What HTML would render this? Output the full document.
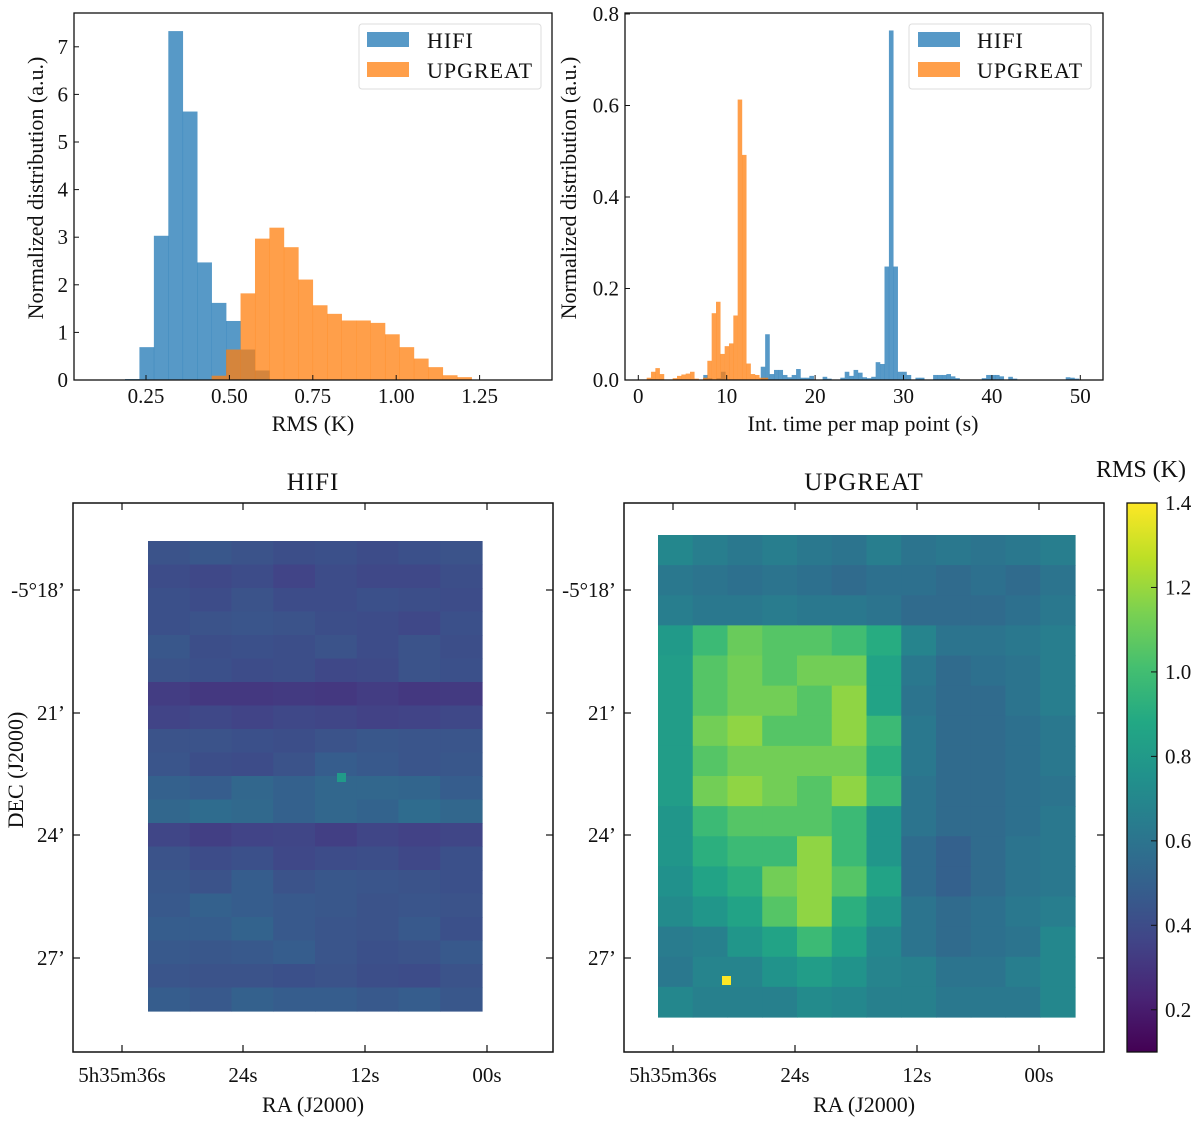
<!DOCTYPE html>
<html><head><meta charset="utf-8">
<style>
body{margin:0;background:#fff;}
svg text{font-family:"Liberation Serif",serif;fill:#111;}
</style></head>
<body>
<svg id="fig" width="1200" height="1124" viewBox="0 0 1200 1124" xmlns="http://www.w3.org/2000/svg">
<defs>
<linearGradient id="vir" x1="0" y1="1" x2="0" y2="0">
<stop offset="0" stop-color="#440154"/><stop offset="0.1" stop-color="#482475"/><stop offset="0.2" stop-color="#414487"/><stop offset="0.3" stop-color="#355f8d"/><stop offset="0.4" stop-color="#2a788e"/><stop offset="0.5" stop-color="#21918c"/><stop offset="0.6" stop-color="#22a884"/><stop offset="0.7" stop-color="#44bf70"/><stop offset="0.8" stop-color="#7ad151"/><stop offset="0.9" stop-color="#bddf26"/><stop offset="1" stop-color="#fde725"/>
</linearGradient>
</defs>
</svg>
<script>
// ---- Histogram 1 data (RMS) ----
const rmsBinStart = 0.187;
const rmsBinWidth = 0.0433;
const rmsHifi = [0.02,0.69,3.03,7.33,5.64,2.47,1.62,1.24,0.64,0.2];
const rmsUpgreatStart = 0.187 + 6*0.0433;
const rmsUpgreat = [0.09,0.64,1.82,2.97,3.2,2.79,2.11,1.57,1.39,1.25,1.25,1.2,0.96,0.69,0.45,0.27,0.1,0.06];
const rmsXTicks = [0.25,0.5,0.75,1.0,1.25];
const rmsXTickLabels = ["0.25","0.50","0.75","1.00","1.25"];
const rmsYTicks = [0,1,2,3,4,5,6,7];
// ---- Histogram 2 data (integration time) ----
const timeHifiStart = 7.35;
const timeHifiWidth = 0.5;
const timeHifi = [0.011,0.004,0,0.004,0.018,0,0,0,0,0,0,0,0,0.029,0.1,0.013,0.022,0.022,0.011,0.006,0.011,0.024,0.005,0.005,0.009,0,0,0.007,0.003,0,0,0.005,0.018,0.009,0.022,0.016,0.006,0.004,0.007,0.039,0.035,0.248,0.764,0.248,0.018,0.018,0.011,0,0.005,0.005,0,0,0.011,0.011,0.011,0.013,0.008,0.004,0,0,0,0,0,0.004,0.011,0.011,0.011,0.008,0,0.007,0.003,0,0,0,0,0,0,0,0,0,0,0,0.006,0.005,0.003];
const timeUpStart = 0.95;
const timeUpWidth = 0.49;
const timeUp = [0.005,0.018,0.026,0.013,0,0,0.004,0.009,0.012,0.014,0.018,0.003,0,0.005,0.042,0.146,0.171,0.057,0.074,0.08,0.141,0.613,0.492,0.036,0.013,0.011,0.005,0.005];
const timeXTicks = [0,10,20,30,40,50];
const timeYTicks = [0,0.2,0.4,0.6,0.8];
const timeYTickLabels = ["0.0","0.2","0.4","0.6","0.8"];
// ---- Maps ----
const hifiMap = [
[.43,.45,.43,.41,.42,.40,.42,.43],
[.40,.38,.40,.36,.40,.38,.38,.41],
[.42,.40,.43,.40,.40,.42,.41,.40],
[.42,.43,.44,.43,.41,.40,.38,.42],
[.45,.41,.42,.41,.43,.40,.43,.41],
[.43,.42,.40,.41,.38,.39,.43,.42],
[.33,.31,.31,.32,.31,.33,.31,.32],
[.36,.38,.36,.38,.37,.35,.36,.38],
[.43,.43,.42,.41,.43,.45,.44,.44],
[.44,.41,.40,.43,.48,.46,.44,.45],
[.50,.48,.53,.50,.53,.53,.52,.48],
[.53,.56,.54,.50,.53,.51,.56,.53],
[.37,.34,.36,.37,.34,.37,.35,.37],
[.43,.40,.42,.38,.40,.41,.38,.42],
[.45,.43,.48,.43,.45,.44,.43,.42],
[.46,.50,.48,.46,.45,.43,.44,.43],
[.48,.48,.51,.46,.44,.43,.46,.42],
[.46,.45,.46,.48,.44,.42,.43,.46],
[.44,.43,.43,.42,.43,.41,.40,.43],
[.48,.46,.50,.48,.48,.46,.48,.45]];
const upMap = [
[.70,.65,.62,.65,.62,.60,.65,.60,.62,.60,.62,.65],
[.62,.60,.58,.60,.58,.55,.58,.58,.55,.58,.55,.60],
[.65,.62,.62,.64,.62,.62,.60,.55,.55,.55,.58,.62],
[.80,.98,1.10,1.05,1.05,1.00,.90,.68,.60,.60,.62,.65],
[.82,1.05,1.12,1.05,1.12,1.12,.85,.62,.55,.58,.60,.65],
[.82,1.05,1.12,1.12,1.05,1.18,.85,.60,.55,.55,.60,.65],
[.82,1.12,1.18,1.05,1.05,1.18,.98,.62,.55,.55,.58,.62],
[.82,1.05,1.12,1.12,1.12,1.12,.92,.62,.55,.55,.58,.62],
[.82,1.12,1.18,1.12,1.05,1.18,.98,.60,.55,.55,.58,.60],
[.78,.98,1.05,1.05,1.05,.98,.78,.60,.55,.55,.58,.62],
[.78,.92,.98,.98,1.18,.98,.78,.56,.50,.55,.60,.62],
[.75,.85,.92,1.12,1.18,1.05,.85,.56,.50,.55,.60,.62],
[.72,.78,.85,1.05,1.18,.92,.78,.60,.55,.58,.62,.65],
[.64,.66,.78,.85,.98,.85,.70,.60,.55,.58,.60,.70],
[.62,.68,.68,.76,.82,.76,.68,.66,.60,.60,.65,.70],
[.70,.66,.66,.66,.72,.70,.66,.66,.62,.62,.62,.70]];
const cbTicks = [0.2,0.4,0.6,0.8,1.0,1.2,1.4];
const cbTickLabels = ["0.2","0.4","0.6","0.8","1.0","1.2","1.4"];
const raTickLabels = ["5h35m36s","24s","12s","00s"];
const decTickLabels = ["-5°18’","21’","24’","27’"];

const NS="http://www.w3.org/2000/svg";
const svg=document.getElementById('fig');
function el(tag,attrs,parent,text){const e=document.createElementNS(NS,tag);for(const k in attrs)e.setAttribute(k,attrs[k]);if(text!==undefined)e.textContent=text;(parent||svg).appendChild(e);return e;}

const stops=[[68,1,84],[72,36,117],[65,68,135],[53,95,141],[42,120,142],[33,145,140],[34,168,132],[68,191,112],[122,209,81],[189,223,38],[253,231,37]];
function viridis(t){t=Math.max(0,Math.min(1,t));const f=t*10;const i=Math.min(9,Math.floor(f));const r=f-i;const a=stops[i],b=stops[i+1];return `rgb(${Math.round(a[0]+(b[0]-a[0])*r)},${Math.round(a[1]+(b[1]-a[1])*r)},${Math.round(a[2]+(b[2]-a[2])*r)})`;}
const vmin=0.1,vmax=1.4;
function cval(v){return viridis((v-vmin)/(vmax-vmin));}
const TF=21, LF=22;

// ===== Histogram 1 =====
{
const L=74,R=552,T=13,B=380;
const xs=v=>62.6+(v)*333.6;
const ys=v=>B-v*47.6;
const g=el('g',{});  
rmsHifi.forEach((v,i)=>{const x0=xs(rmsBinStart+i*rmsBinWidth),x1=xs(rmsBinStart+(i+1)*rmsBinWidth);
 const r=el('rect',{x:x0,y:ys(v),width:x1-x0+0.3,height:B-ys(v),fill:'#1f77b4','fill-opacity':0.75},g);
  });
rmsUpgreat.forEach((v,i)=>{const x0=xs(rmsUpgreatStart+i*rmsBinWidth),x1=xs(rmsUpgreatStart+(i+1)*rmsBinWidth);
 const r=el('rect',{x:x0,y:ys(v),width:x1-x0+0.3,height:B-ys(v),fill:'#ff7f0e','fill-opacity':0.75},g);
  });
const fr=el('rect',{x:L,y:T,width:R-L,height:B-T,fill:'none',stroke:'#111','stroke-width':1.3},g);
 
rmsXTicks.forEach((v,i)=>{el('line',{x1:xs(v),x2:xs(v),y1:B,y2:B-5,stroke:'#111'},g);
 const t=el('text',{x:xs(v),y:403,'text-anchor':'middle','font-size':TF},g,rmsXTickLabels[i]);
  });
rmsYTicks.forEach(v=>{el('line',{x1:L,x2:L+5,y1:ys(v),y2:ys(v),stroke:'#111'},g);
 const t=el('text',{x:68,y:ys(v)+7,'text-anchor':'end','font-size':TF},g,String(v));
  });
const xl=el('text',{x:313,y:431,'text-anchor':'middle','font-size':LF},g,'RMS (K)');
 
const yl=el('text',{x:0,y:0,'text-anchor':'middle','font-size':LF,transform:'translate(43,188) rotate(-90)'},g,'Normalized distribution (a.u.)');
 
const lg=el('g',{},g);  
el('rect',{x:359,y:24,width:182,height:65,rx:3,fill:'#fff',stroke:'#ddd'},lg);
el('rect',{x:367,y:32,width:42,height:15,fill:'#1f77b4','fill-opacity':0.75},lg);
el('rect',{x:367,y:62,width:42,height:15,fill:'#ff7f0e','fill-opacity':0.75},lg);
const a1=el('text',{x:427,y:48,'font-size':LF,'letter-spacing':1},lg,'HIFI');  
const a2=el('text',{x:427,y:78,'font-size':LF,'letter-spacing':1},lg,'UPGREAT');  
}

// ===== Histogram 2 =====
{
const L=625,R=1103,T=13,B=380;
const xs=v=>638.3+v*8.84;
const ys=v=>B-v*457.5;
const g=el('g',{});  
timeHifi.forEach((v,i)=>{if(!v)return;const x0=xs(timeHifiStart+i*timeHifiWidth),x1=xs(timeHifiStart+(i+1)*timeHifiWidth);
 const r=el('rect',{x:x0,y:ys(v),width:x1-x0+0.2,height:B-ys(v),fill:'#1f77b4','fill-opacity':0.75},g);
  });
timeUp.forEach((v,i)=>{if(!v)return;const x0=xs(timeUpStart+i*timeUpWidth),x1=xs(timeUpStart+(i+1)*timeUpWidth);
 const r=el('rect',{x:x0,y:ys(v),width:x1-x0+0.2,height:B-ys(v),fill:'#ff7f0e','fill-opacity':0.75},g);
  });
const fr=el('rect',{x:L,y:T,width:R-L,height:B-T,fill:'none',stroke:'#111','stroke-width':1.3},g);
 
timeXTicks.forEach(v=>{el('line',{x1:xs(v),x2:xs(v),y1:B,y2:B-5,stroke:'#111'},g);
 const t=el('text',{x:xs(v),y:403,'text-anchor':'middle','font-size':TF},g,String(v));
  });
timeYTicks.forEach((v,i)=>{el('line',{x1:L,x2:L+5,y1:ys(v),y2:ys(v),stroke:'#111'},g);
 const t=el('text',{x:619,y:ys(v)+7,'text-anchor':'end','font-size':TF},g,timeYTickLabels[i]);
  });
const xl=el('text',{x:863,y:431,'text-anchor':'middle','font-size':LF},g,'Int. time per map point (s)');
 
const yl=el('text',{x:0,y:0,'text-anchor':'middle','font-size':LF,transform:'translate(576,188) rotate(-90)'},g,'Normalized distribution (a.u.)');
 
const lg=el('g',{},g);  
el('rect',{x:909,y:24,width:182,height:65,rx:3,fill:'#fff',stroke:'#ddd'},lg);
el('rect',{x:918,y:32,width:42,height:15,fill:'#1f77b4','fill-opacity':0.75},lg);
el('rect',{x:918,y:62,width:42,height:15,fill:'#ff7f0e','fill-opacity':0.75},lg);
const a1=el('text',{x:977,y:48,'font-size':LF,'letter-spacing':1},lg,'HIFI');  
const a2=el('text',{x:977,y:78,'font-size':LF,'letter-spacing':1},lg,'UPGREAT');  
}

// ===== Maps =====
function drawMap(name,title,L,R,mx0,mx1,my0,my1,data,raX,decLabelX,showDecTitle,spot){
 const T=503,B=1052;
 const g=el('g',{});  
 const rows=data.length, cols=data[0].length;
 const cw=(mx1-mx0)/cols, rh=(my1-my0)/rows;
 data.forEach((row,r)=>row.forEach((v,c)=>{
  const e=el('rect',{x:mx0+c*cw,y:my0+r*rh,width:cw+0.6,height:rh+0.6,fill:cval(v)},g);
   }));
 if(spot){const s=el('rect',{x:spot[0]-4,y:spot[1]-4,width:9,height:9,fill:cval(spot[2])},g);
   }
 const fr=el('rect',{x:L,y:T,width:R-L,height:B-T,fill:'none',stroke:'#111','stroke-width':1.5},g);
  
 const decY=[590,713,835,958];
 raX.forEach((x,i)=>{el('line',{x1:x,x2:x,y1:B,y2:B-7,stroke:'#111','stroke-width':1.2},g);el('line',{x1:x,x2:x,y1:T,y2:T+7,stroke:'#111','stroke-width':1.2},g);
  const t=el('text',{x:x,y:1082,'text-anchor':'middle','font-size':TF},g,raTickLabels[i]);
   });
 decY.forEach((y,i)=>{el('line',{x1:L,x2:L+7,y1:y,y2:y,stroke:'#111','stroke-width':1.2},g);el('line',{x1:R,x2:R-7,y1:y,y2:y,stroke:'#111','stroke-width':1.2},g);
  const t=el('text',{x:decLabelX,y:y+7,'text-anchor':'end','font-size':TF},g,decTickLabels[i]);
   });
 const tt=el('text',{x:(L+R)/2,y:490,'text-anchor':'middle','font-size':25,'letter-spacing':1},g,title);
  
 const xl=el('text',{x:(L+R)/2,y:1112,'text-anchor':'middle','font-size':LF},g,'RA (J2000)');
  
 if(showDecTitle){const yl=el('text',{x:0,y:0,'text-anchor':'middle','font-size':LF,transform:'translate(23,770) rotate(-90)'},g,'DEC (J2000)');
   }
}
drawMap('hifi-map','HIFI',73,553,148,482,541,1011,hifiMap,[122,243,365,487],65,true,[341,777,0.8]);
drawMap('upgreat-map','UPGREAT',624,1104,658,1075,535,1017,upMap,[673,795,917,1039],616,false,[726,980,1.4]);

// ===== Colorbar =====
{
const L=1127,R=1157,T=503,B=1052;
const ys=v=>B-(v-vmin)/(vmax-vmin)*(B-T);
const g=el('g',{});  
const r=el('rect',{x:L,y:T,width:R-L,height:B-T,fill:'url(#vir)',stroke:'#111','stroke-width':1.3},g);
 
cbTicks.forEach((v,i)=>{el('line',{x1:R,x2:R-6,y1:ys(v),y2:ys(v),stroke:'#111'},g);
 const t=el('text',{x:1165,y:ys(v)+7,'font-size':TF},g,cbTickLabels[i]);
  });
const ct=el('text',{x:1141,y:477,'text-anchor':'middle','font-size':24},g,'RMS (K)');
 
}
</script>
</body></html>
